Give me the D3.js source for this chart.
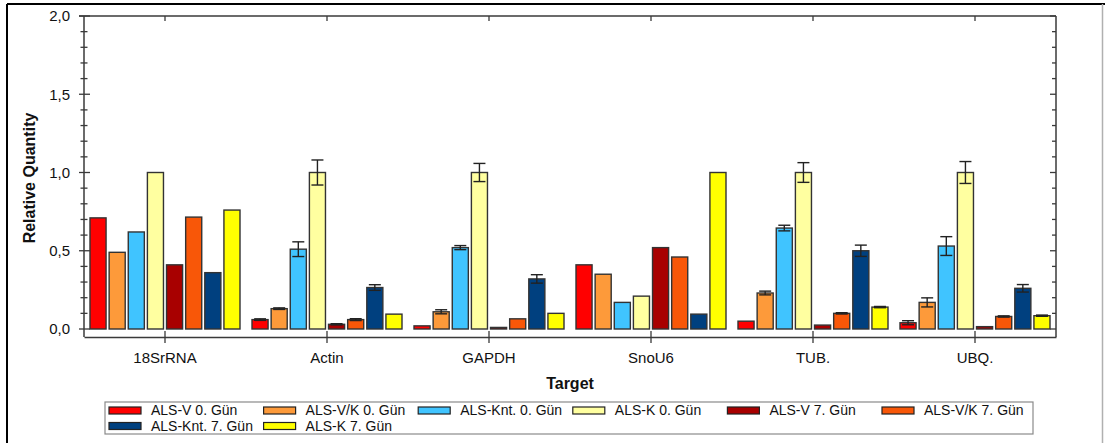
<!DOCTYPE html>
<html>
<head>
<meta charset="utf-8">
<script src="https://cdn.jsdelivr.net/npm/d3@7"></script>
<style>
  html, body { margin: 0; padding: 0; background: #fff; }
  svg { display: block; font-family: "Liberation Sans", Arial, sans-serif; }
</style>
</head>
<body>
<svg id="chart" width="1105" height="443"></svg>
<script>
// Target genes on the x axis
const categories = ["18SrRNA", "Actin", "GAPDH", "SnoU6", "TUB.", "UBQ."];

// Sample series (legend order)
const seriesNames = [
  "ALS-V 0. Gün", "ALS-V/K 0. Gün", "ALS-Knt. 0. Gün", "ALS-K 0. Gün",
  "ALS-V 7. Gün", "ALS-V/K 7. Gün", "ALS-Knt. 7. Gün", "ALS-K 7. Gün"
];
const seriesColors = [
  "#ff0000", "#fd9a3a", "#40c4ff", "#ffffa0",
  "#a80000", "#f85708", "#00407f", "#ffff00"
];

// Relative quantity per series, one value per target
const alsV0    = [0.71, 0.06, 0.02, 0.41, 0.05, 0.04];
const alsVK0   = [0.49, 0.13, 0.11, 0.35, 0.23, 0.17];
const alsKnt0  = [0.62, 0.51, 0.52, 0.17, 0.645, 0.53];
const alsK0    = [1.00, 1.00, 1.00, 0.21, 1.00, 1.00];
const alsV7    = [0.41, 0.03, 0.01, 0.52, 0.025, 0.015];
const alsVK7   = [0.715, 0.06, 0.065, 0.46, 0.10, 0.08];
const alsKnt7  = [0.36, 0.265, 0.32, 0.095, 0.50, 0.26];
const alsK7    = [0.76, 0.095, 0.10, 1.00, 0.14, 0.085];

// Error (± spread) per series, one value per target; 0 = no error bar
const errV0    = [0, 0.005, 0, 0, 0, 0.013];
const errVK0   = [0, 0.005, 0.013, 0, 0.012, 0.029];
const errKnt0  = [0, 0.047, 0.013, 0, 0.018, 0.06];
const errK0    = [0, 0.08, 0.058, 0, 0.063, 0.07];
const errV7    = [0, 0.004, 0, 0, 0, 0];
const errVK7   = [0, 0.006, 0, 0, 0.004, 0.004];
const errKnt7  = [0, 0.018, 0.027, 0, 0.036, 0.024];
const errK7    = [0, 0, 0, 0, 0.004, 0.004];

// Y axis tick labels
const yMajorTicks = [0, 0.5, 1.0, 1.5, 2.0];
const yTickLabels = ["0,0", "0,5", "1,0", "1,5", "2,0"];
const yMinorTicks = d3.range(0, 21).map(i => i / 10);

const seriesValues = [alsV0, alsVK0, alsKnt0, alsK0, alsV7, alsVK7, alsKnt7, alsK7];
const seriesErrors = [errV0, errVK0, errKnt0, errK0, errV7, errVK7, errKnt7, errK7];

const svg = d3.select("#chart");
const axisColor = "#3a3a3a";

// Plot frame
const plotLeft = 84, plotRight = 1056, plotTop = 16, axisBottomY = 337, zeroY = 329;

const x0 = d3.scaleBand().domain(categories).range([plotLeft, plotRight]);
const x1 = d3.scaleBand().domain(seriesNames).range([6, x0.bandwidth() - 6]).paddingInner(0.16);
const y = d3.scaleLinear().domain([0, 2]).range([zeroY, plotTop]);
const isMajor = d => yMajorTicks.some(m => Math.abs(m - d) < 1e-9);

// Outer figure border
svg.append("line").attr("x1", 7).attr("x2", 1105).attr("y1", 4).attr("y2", 4)
  .attr("stroke", "#000").attr("stroke-width", 2);
svg.append("line").attr("x1", 7).attr("x2", 7).attr("y1", 4).attr("y2", 443)
  .attr("stroke", "#000").attr("stroke-width", 2);
svg.append("line").attr("x1", 1102.5).attr("x2", 1102.5).attr("y1", 4).attr("y2", 443)
  .attr("stroke", "#b0b0b0").attr("stroke-width", 1.5);

// Bars
const rows = [];
categories.forEach((c, ci) => {
  seriesNames.forEach((s, si) => {
    rows.push({ cat: c, name: s, color: seriesColors[si],
                value: seriesValues[si][ci], err: seriesErrors[si][ci] });
  });
});

const barG = svg.append("g");
barG.selectAll("rect").data(rows).join("rect")
  .attr("x", d => x0(d.cat) + x1(d.name))
  .attr("y", d => y(d.value))
  .attr("width", x1.bandwidth())
  .attr("height", d => y(0) - y(d.value))
  .attr("fill", d => d.color)
  .attr("stroke", "#333")
  .attr("stroke-width", 1.4);

// Error bars
const errRows = rows.filter(d => d.err > 0);
const errG = svg.append("g").attr("stroke", "#222").attr("stroke-width", 1.4);
errRows.forEach(d => {
  const cx = x0(d.cat) + x1(d.name) + x1.bandwidth() / 2;
  const hi = y(d.value + d.err), lo = y(d.value - d.err);
  errG.append("line").attr("x1", cx).attr("x2", cx).attr("y1", hi).attr("y2", lo);
  errG.append("line").attr("x1", cx - 6).attr("x2", cx + 6).attr("y1", hi).attr("y2", hi);
  errG.append("line").attr("x1", cx - 6).attr("x2", cx + 6).attr("y1", lo).attr("y2", lo);
});

// Left axis
const leftAxis = svg.append("g");
leftAxis.append("line").attr("x1", plotLeft).attr("x2", plotLeft).attr("y1", plotTop).attr("y2", axisBottomY)
  .attr("stroke", axisColor).attr("stroke-width", 1.5);
leftAxis.selectAll("line.t").data(yMinorTicks).join("line").attr("class", "t")
  .attr("x1", d => isMajor(d) ? plotLeft - 5 : plotLeft - 3.5)
  .attr("x2", d => isMajor(d) ? plotLeft + 6 : plotLeft + 3.5)
  .attr("y1", d => y(d)).attr("y2", d => y(d))
  .attr("stroke", axisColor).attr("stroke-width", 1.3);
leftAxis.selectAll("text").data(yMajorTicks).join("text")
  .attr("x", 70).attr("y", d => y(d)).attr("dy", "0.35em")
  .attr("text-anchor", "end").attr("font-size", 15).attr("fill", "#111")
  .text((d, i) => yTickLabels[i]);

// Right axis (ticks pointing inward)
const rightAxis = svg.append("g");
rightAxis.append("line").attr("x1", plotRight).attr("x2", plotRight).attr("y1", plotTop).attr("y2", axisBottomY)
  .attr("stroke", axisColor).attr("stroke-width", 1.5);
rightAxis.selectAll("line.t").data(yMinorTicks).join("line").attr("class", "t")
  .attr("x1", d => isMajor(d) ? plotRight - 6 : plotRight - 4)
  .attr("x2", plotRight)
  .attr("y1", d => y(d)).attr("y2", d => y(d))
  .attr("stroke", axisColor).attr("stroke-width", 1.3);

// Top axis
const topAxis = svg.append("g");
topAxis.append("line").attr("x1", plotLeft - 5).attr("x2", plotRight).attr("y1", plotTop).attr("y2", plotTop)
  .attr("stroke", axisColor).attr("stroke-width", 1.5);
topAxis.selectAll("line.t").data(categories).join("line").attr("class", "t")
  .attr("x1", d => x0(d) + x0.bandwidth() / 2).attr("x2", d => x0(d) + x0.bandwidth() / 2)
  .attr("y1", plotTop).attr("y2", plotTop + 5)
  .attr("stroke", axisColor).attr("stroke-width", 1.3);

// Bottom axis
const bottomAxis = svg.append("g").attr("transform", `translate(0,${axisBottomY})`)
  .call(d3.axisBottom(x0).tickSizeInner(6).tickSizeOuter(0).tickPadding(9));
bottomAxis.select(".domain").attr("stroke", axisColor).attr("stroke-width", 1.5);
bottomAxis.selectAll(".tick line").attr("y1", -6).attr("y2", 6)
  .attr("stroke", axisColor).attr("stroke-width", 1.3);
bottomAxis.selectAll(".tick text").attr("font-size", 15).attr("fill", "#111")
  .attr("font-family", "Liberation Sans, Arial, sans-serif");

// Axis titles
svg.append("text").attr("x", (plotLeft + plotRight) / 2).attr("y", 389)
  .attr("text-anchor", "middle").attr("font-size", 16).attr("font-weight", "bold")
  .attr("fill", "#111").text("Target");
svg.append("text")
  .attr("transform", `translate(35,178) rotate(-90)`)
  .attr("text-anchor", "middle").attr("font-size", 16).attr("font-weight", "bold")
  .attr("fill", "#111").text("Relative Quantity");

// Legend
const legend = svg.append("g");
legend.append("rect").attr("x", 105).attr("y", 402).attr("width", 928).attr("height", 32)
  .attr("fill", "#fff").attr("stroke", "#8a8a8a").attr("stroke-width", 1.2);
const colStep = 154.6, perRow = 6;
const items = legend.selectAll("g.item").data(seriesNames).join("g").attr("class", "item")
  .attr("transform", (d, i) => `translate(${109 + (i % perRow) * colStep},${410.5 + Math.floor(i / perRow) * 15.5})`);
items.append("rect").attr("x", 0).attr("y", -3.5).attr("width", 32).attr("height", 7)
  .attr("fill", (d, i) => seriesColors[i]).attr("stroke", "#222").attr("stroke-width", 1.2);
items.append("text").attr("x", 42).attr("y", 0).attr("dy", "0.35em")
  .attr("font-size", 14).attr("fill", "#111").text(d => d);
</script>
</body>
</html>
